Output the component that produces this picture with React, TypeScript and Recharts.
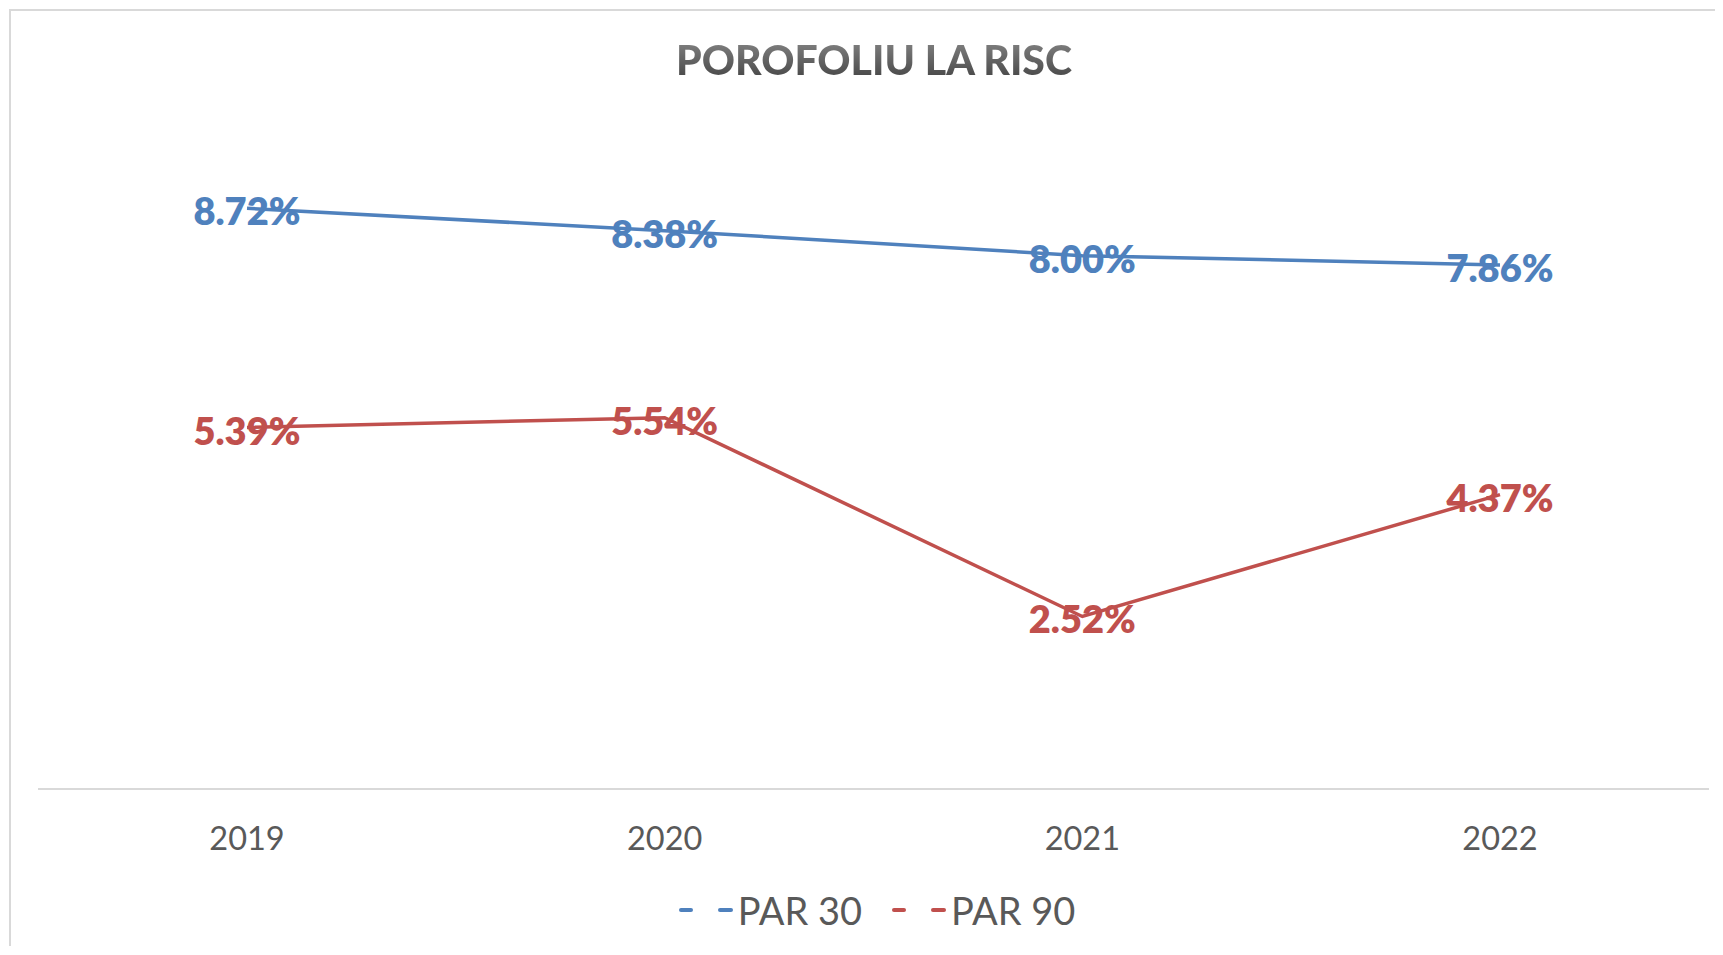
import { LineChart, Line, XAxis, YAxis, Legend } from 'recharts';

const years = ['2019', '2020', '2021', '2022'];
const par30 = [0.0872, 0.0838, 0.08, 0.0786];
const par90 = [0.0539, 0.0554, 0.0252, 0.0437];

const SERIES = [
  { key: 'par30', name: 'PAR 30', color: '#4f81bd' },
  { key: 'par90', name: 'PAR 90', color: '#c0504d' },
];

const data = years.map((year, i) => ({ year, par30: par30[i], par90: par90[i] }));

const FONT = 'Lato, "Open Sans", sans-serif';

const fmt = (v: number) => `${(v * 100).toFixed(2)}%`;

// eticheta centrata pe punct
const makeLabel = (color: string) => (props: any) => {
  const { x, y, value } = props;
  return (
    <text
      x={x}
      y={y + 2}
      textAnchor="middle"
      dominantBaseline="central"
      fill={color}
      fontFamily={FONT}
      fontWeight={800}
      fontSize={38}
    >
      {fmt(value)}
    </text>
  );
};

const YearTick = (props: any) => {
  const { x, y, payload } = props;
  return (
    <text
      x={x}
      y={y + 40}
      textAnchor="middle"
      dominantBaseline="central"
      fill="#595959"
      fontFamily={FONT}
      fontSize={32.5}
    >
      {payload.value}
    </text>
  );
};

const LegendContent = () => (
  <div
    style={{
      display: 'flex',
      justifyContent: 'center',
      alignItems: 'center',
      fontFamily: FONT,
      fontSize: 38,
      color: '#595959',
      paddingLeft: 22,
    }}
  >
    {SERIES.map((s, i) => (
      <div key={s.key} style={{ display: 'flex', alignItems: 'center', marginLeft: i ? 30 : 0 }}>
        <span style={{ width: 14, height: 4, borderRadius: 2, background: s.color }} />
        <span style={{ width: 15, height: 4, borderRadius: 2, background: s.color, marginLeft: 25, marginRight: 5 }} />
        <span>{s.name}</span>
      </div>
    ))}
  </div>
);

export default function App() {
  return (
    <div
      style={{
        position: 'relative',
        width: 1710,
        height: 935,
        marginLeft: 1,
        marginTop: 1,
        borderLeft: '2px solid #d9d9d9',
        borderTop: '2px solid #d9d9d9',
        background: '#fff',
      }}
    >
      <div
        style={{
          position: 'absolute',
          left: 0,
          top: 24,
          width: 1726,
          textAlign: 'center',
          fontFamily: FONT,
          fontWeight: 900,
          fontSize: 41,
          lineHeight: '50px',
        }}
      >
        <span
          style={{
            background: 'linear-gradient(#8a8a8a, #3f3f3f)',
            WebkitBackgroundClip: 'text',
            backgroundClip: 'text',
            color: 'transparent',
          }}
        >
          POROFOLIU LA RISC
        </span>
      </div>
      <LineChart
        width={1710}
        height={935}
        data={data}
        margin={{ top: 113, right: 12, bottom: 81, left: 27 }}
      >
        <XAxis
          dataKey="year"
          axisLine={{ stroke: '#d9d9d9', strokeWidth: 2 }}
          tickLine={false}
          tick={<YearTick />}
          padding={{ left: 209, right: 209 }}
          interval={0}
        />
        <YAxis hide domain={[-0.001, 0.1]} />
        <Legend
          content={<LegendContent />}
          wrapperStyle={{ position: 'absolute', top: 876, left: 0, width: 1710 }}
        />
        {SERIES.map((s) => (
          <Line
            key={s.key}
            type="linear"
            dataKey={s.key}
            name={s.name}
            stroke={s.color}
            strokeWidth={3.5}
            dot={false}
            label={makeLabel(s.color)}
            isAnimationActive={false}
          />
        ))}
      </LineChart>
    </div>
  );
}
